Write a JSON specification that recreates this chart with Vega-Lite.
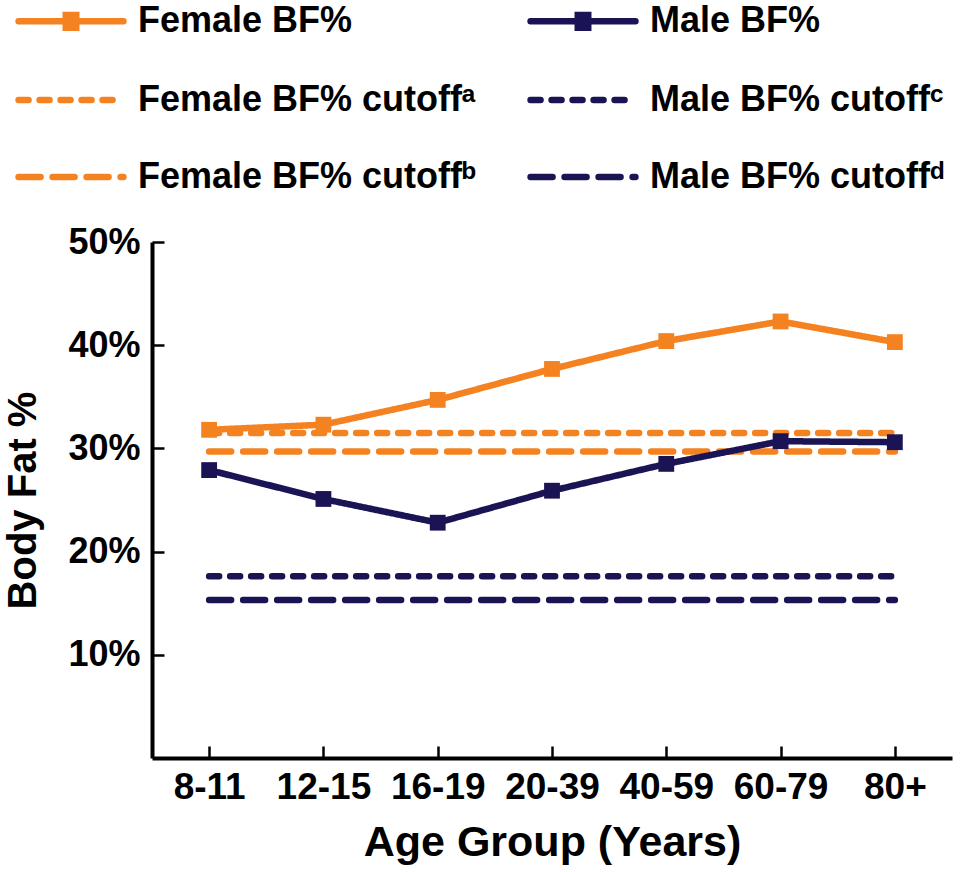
{
  "$schema": "https://vega.github.io/schema/vega-lite/v6.json",
  "width": 800,
  "height": 516,
  "autosize": {"type": "none"},
  "padding": {"left": 152, "top": 242, "right": 10, "bottom": 114},
  "background": "white",
  "config": {
    "view": {"stroke": null},
    "font": "Liberation Sans",
    "axis": {
      "domainColor": "black",
      "domainWidth": 4,
      "tickColor": "black",
      "tickWidth": 2.5,
      "tickSize": -12,
      "grid": false,
      "labelColor": "black",
      "titleColor": "black",
      "labelFont": "Liberation Sans",
      "titleFont": "Liberation Sans",
      "labelFontWeight": "bold",
      "titleFontWeight": "bold"
    },
    "legend": {
      "orient": "none",
      "legendX": -137,
      "legendY": -277,
      "columns": 2,
      "symbolType": "M-1,0H1",
      "symbolSize": 11000,
      "symbolStrokeWidth": 6.5,
      "labelFontSize": 36,
      "labelFont": "Liberation Sans",
      "labelFontWeight": "bold",
      "labelColor": "black",
      "labelOffset": 11,
      "rowPadding": 3,
      "columnPadding": 40,
      "labelLimit": 600,
      "padding": 0
    }
  },
  "data": {
    "values": [
      {"age": "8-11", "series": "Female BF% cutoffᵃ", "value": 31.5},
      {"age": "12-15", "series": "Female BF% cutoffᵃ", "value": 31.5},
      {"age": "16-19", "series": "Female BF% cutoffᵃ", "value": 31.5},
      {"age": "20-39", "series": "Female BF% cutoffᵃ", "value": 31.5},
      {"age": "40-59", "series": "Female BF% cutoffᵃ", "value": 31.5},
      {"age": "60-79", "series": "Female BF% cutoffᵃ", "value": 31.5},
      {"age": "80+", "series": "Female BF% cutoffᵃ", "value": 31.5},
      {"age": "8-11", "series": "Female BF% cutoffᵇ", "value": 29.7},
      {"age": "12-15", "series": "Female BF% cutoffᵇ", "value": 29.7},
      {"age": "16-19", "series": "Female BF% cutoffᵇ", "value": 29.7},
      {"age": "20-39", "series": "Female BF% cutoffᵇ", "value": 29.7},
      {"age": "40-59", "series": "Female BF% cutoffᵇ", "value": 29.7},
      {"age": "60-79", "series": "Female BF% cutoffᵇ", "value": 29.7},
      {"age": "80+", "series": "Female BF% cutoffᵇ", "value": 29.7},
      {"age": "8-11", "series": "Male BF% cutoffᶜ", "value": 17.6},
      {"age": "12-15", "series": "Male BF% cutoffᶜ", "value": 17.6},
      {"age": "16-19", "series": "Male BF% cutoffᶜ", "value": 17.6},
      {"age": "20-39", "series": "Male BF% cutoffᶜ", "value": 17.6},
      {"age": "40-59", "series": "Male BF% cutoffᶜ", "value": 17.6},
      {"age": "60-79", "series": "Male BF% cutoffᶜ", "value": 17.6},
      {"age": "80+", "series": "Male BF% cutoffᶜ", "value": 17.6},
      {"age": "8-11", "series": "Male BF% cutoffᵈ", "value": 15.3},
      {"age": "12-15", "series": "Male BF% cutoffᵈ", "value": 15.3},
      {"age": "16-19", "series": "Male BF% cutoffᵈ", "value": 15.3},
      {"age": "20-39", "series": "Male BF% cutoffᵈ", "value": 15.3},
      {"age": "40-59", "series": "Male BF% cutoffᵈ", "value": 15.3},
      {"age": "60-79", "series": "Male BF% cutoffᵈ", "value": 15.3},
      {"age": "80+", "series": "Male BF% cutoffᵈ", "value": 15.3},
      {"age": "8-11", "series": "Female BF%", "value": 31.8},
      {"age": "12-15", "series": "Female BF%", "value": 32.3},
      {"age": "16-19", "series": "Female BF%", "value": 34.7},
      {"age": "20-39", "series": "Female BF%", "value": 37.7},
      {"age": "40-59", "series": "Female BF%", "value": 40.4},
      {"age": "60-79", "series": "Female BF%", "value": 42.3},
      {"age": "80+", "series": "Female BF%", "value": 40.3},
      {"age": "8-11", "series": "Male BF%", "value": 27.9},
      {"age": "12-15", "series": "Male BF%", "value": 25.1},
      {"age": "16-19", "series": "Male BF%", "value": 22.8},
      {"age": "20-39", "series": "Male BF%", "value": 25.9},
      {"age": "40-59", "series": "Male BF%", "value": 28.5},
      {"age": "60-79", "series": "Male BF%", "value": 30.7},
      {"age": "80+", "series": "Male BF%", "value": 30.6}
    ]
  },
  "encoding": {
    "x": {
      "field": "age",
      "type": "ordinal",
      "sort": ["8-11", "12-15", "16-19", "20-39", "40-59", "60-79", "80+"],
      "scale": {"type": "point", "padding": 0.5},
      "axis": {
        "title": "Age Group (Years)",
        "labelAngle": 0,
        "labelFontSize": 37,
        "titleFontSize": 43,
        "labelPadding": 23,
        "titlePadding": 16
      }
    },
    "y": {
      "field": "value",
      "type": "quantitative",
      "scale": {"domain": [0, 50], "nice": false, "zero": true},
      "axis": {
        "title": "Body Fat %",
        "values": [10, 20, 30, 40, 50],
        "labelExpr": "datum.value + '%'",
        "labelFontSize": 36,
        "titleFontSize": 40,
        "labelPadding": 24,
        "titlePadding": 24
      }
    },
    "color": {
      "field": "series",
      "type": "nominal",
      "scale": {
        "domain": ["Female BF%", "Female BF% cutoffᵃ", "Female BF% cutoffᵇ", "Male BF%", "Male BF% cutoffᶜ", "Male BF% cutoffᵈ"],
        "range": ["#F58220", "#F58220", "#F58220", "#1B1454", "#1B1454", "#1B1454"]
      },
      "legend": {
        "title": null,
        "encode": {
          "symbols": {
            "update": {
              "strokeCap": {"value": "round"},
              "shape": {"signal": "(datum.value == 'Female BF%' || datum.value == 'Male BF%') ? 'M-1,0H1M-0.1,-0.12H0.1V0.12H-0.1Z' : 'M-1,0H1'"},
              "fill": {"signal": "datum.value == 'Female BF%' ? '#F58220' : datum.value == 'Male BF%' ? '#1B1454' : 'transparent'"}
            }
          }
        }
      }
    }
  },
  "layer": [
    {
      "mark": {"type": "line", "strokeWidth": 6.5, "strokeCap": "round"},
      "encoding": {
        "strokeDash": {
          "field": "series",
          "type": "nominal",
          "scale": {
            "domain": ["Female BF%", "Female BF% cutoffᵃ", "Female BF% cutoffᵇ", "Male BF%", "Male BF% cutoffᶜ", "Male BF% cutoffᵈ"],
            "range": [[1, 0], [10, 11], [22, 12], [1, 0], [10, 11], [22, 12]]
          },
          "legend": {"title": null}
        }
      }
    },
    {
      "transform": [{"filter": "datum.series == 'Female BF%' || datum.series == 'Male BF%'"}],
      "mark": {"type": "point", "shape": "square", "filled": true, "size": 250, "opacity": 1},
      "encoding": {
        "color": {"field": "series", "type": "nominal", "legend": null}
      }
    }
  ]
}
